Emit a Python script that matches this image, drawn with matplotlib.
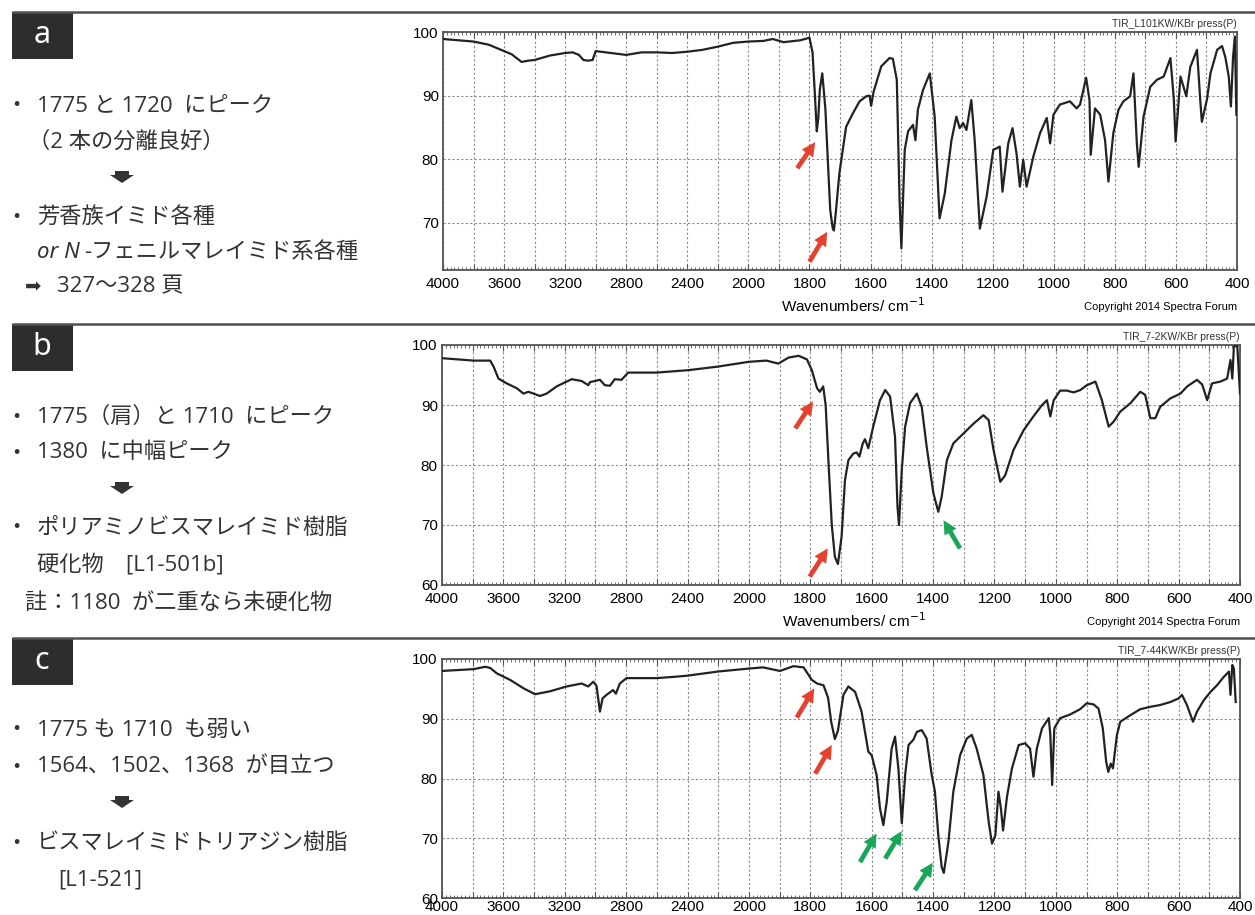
import numpy as np
import matplotlib
matplotlib.use('Agg')
import matplotlib.pyplot as plt
from matplotlib.patches import Rectangle, Polygon

plt.rcParams['font.family'] = ['Liberation Sans', 'DejaVu Sans']
JP = ['Open Sans', 'Noto Sans CJK JP', 'DejaVu Sans']

# --- spectra (wavenumber cm-1, %T) ---
wn_a = [4000, 3800, 3700, 3650, 3600, 3550, 3486, 3440, 3400, 3300, 3200, 3150, 3110, 3080,
        3050, 3020, 3000, 2900, 2800, 2700, 2600, 2500, 2400, 2300, 2200, 2100, 2000, 1951,
        1920, 1885, 1830, 1800, 1790, 1782, 1776, 1771, 1766, 1758, 1748, 1740, 1732, 1724,
        1720, 1714, 1702, 1680, 1658, 1636, 1614, 1603, 1598, 1590, 1565, 1538, 1527, 1514,
        1505, 1499, 1488, 1477, 1461, 1453, 1445, 1428, 1406, 1390, 1374, 1357, 1335, 1319,
        1308, 1297, 1286, 1270, 1259, 1242, 1220, 1198, 1188, 1177, 1168, 1149, 1135, 1122,
        1111, 1100, 1089, 1067, 1045, 1023, 1012, 1001, 980, 947, 925, 914, 894, 883, 879,
        865, 848, 832, 821, 805, 788, 772, 750, 739, 728, 722, 706, 684, 662, 640, 618, 607,
        601, 585, 566, 553, 531, 520, 515, 498, 487, 465, 449, 438, 427, 420, 413, 407, 402]
t_a = [98.9, 98.5, 98.0, 97.5, 97.0, 96.5, 95.3, 95.5, 95.6, 96.3, 96.7, 96.8, 96.4, 95.6,
       95.5, 95.6, 97.0, 96.7, 96.4, 96.8, 96.8, 96.7, 96.9, 97.2, 97.7, 98.3, 98.5, 98.6,
       98.9, 98.4, 98.7, 99.1, 96.8, 90.0, 84.4, 86.5, 91.0, 93.5, 88.0, 80.0, 72.0, 69.2,
       68.8, 71.5, 77.8, 85.1, 87.2, 89.1, 89.9, 90.0, 88.4, 90.6, 94.6, 95.9, 95.8, 92.5,
       73.6, 66.0, 81.5, 84.4, 85.4, 83.0, 87.8, 90.9, 93.5, 86.7, 70.7, 74.6, 83.0, 86.7,
       84.9, 85.7, 84.6, 89.3, 83.0, 69.1, 74.1, 81.5, 81.7, 82.0, 74.9, 82.5, 84.9, 80.9,
       75.7, 79.9, 75.7, 80.4, 84.1, 86.5, 82.5, 87.0, 88.6, 89.1, 88.0, 88.6, 92.8, 89.3, 80.7,
       88.0, 87.0, 83.0, 76.5, 84.1, 87.8, 89.1, 89.9, 93.5, 82.5, 78.8, 86.7, 91.4, 92.5, 93.0, 95.9, 89.5,
       82.8, 93.0, 89.9, 94.5, 97.2, 89.0, 85.9, 89.5, 93.5, 97.2, 97.8, 96.0, 93.0, 88.3, 96.0, 99.3, 87.0]

wn_b = [4000, 3794, 3686, 3664, 3632, 3578, 3513, 3469, 3437, 3404, 3361, 3318, 3253, 3155,
        3090, 3047, 3036, 2971, 2939, 2906, 2874, 2830, 2787, 2603, 2397, 2202, 2000, 1943,
        1904, 1871, 1838, 1811, 1795, 1778, 1769, 1758, 1750, 1740, 1730, 1720, 1710, 1698,
        1687, 1676, 1660, 1649, 1640, 1629, 1622, 1611, 1595, 1573, 1556, 1540, 1524, 1516,
        1511, 1502, 1491, 1475, 1453, 1437, 1421, 1399, 1383, 1372, 1355, 1334, 1312, 1290,
        1268, 1236, 1219, 1203, 1181, 1165, 1138, 1105, 1073, 1045, 1029, 1018, 1007, 986,
        964, 942, 920, 899, 871, 850, 828, 812, 790, 757, 725, 709, 692, 676, 660, 627, 594,
        572, 540, 523, 507, 491, 464, 442, 431, 425, 420, 409, 400]
t_b = [97.8, 97.4, 97.4, 96.4, 94.4, 93.6, 92.8, 91.9, 92.2, 91.9, 91.5, 91.9, 93.1, 94.3,
       94.0, 93.3, 93.8, 94.2, 93.3, 93.2, 94.3, 94.2, 95.4, 95.4, 95.8, 96.4, 97.2, 97.4,
       96.9, 97.9, 98.2, 97.6, 95.8, 92.8, 92.2, 93.1, 90.0, 79.7, 70.0, 64.7, 63.5, 68.1,
       77.5, 80.8, 81.9, 82.1, 81.4, 83.6, 84.3, 82.8, 86.4, 90.8, 92.5, 91.4, 84.7, 73.1,
       70.0, 79.2, 86.4, 90.3, 91.9, 89.7, 83.1, 75.3, 72.2, 74.7, 80.8, 83.6, 84.7, 85.8,
       86.9, 88.3, 87.5, 82.5, 77.2, 78.3, 82.5, 85.8, 88.1, 90.0, 90.8, 88.1, 90.8, 92.4,
       92.4, 92.1, 92.5, 93.3, 93.9, 90.8, 86.4, 87.2, 88.9, 90.3, 92.2, 91.7, 87.8, 87.8, 89.7, 91.1, 91.9,
       93.1, 94.2, 93.4, 90.8, 93.6, 93.9, 94.4, 97.5, 94.4, 99.7, 100.0, 91.9]

wn_c = [4000, 3794, 3718, 3686, 3643, 3556, 3469, 3394, 3296, 3188, 3090, 3047, 3014, 2993,
        2971, 2954, 2928, 2885, 2867, 2841, 2798, 2603, 2495, 2404, 2202, 2000, 1954, 1899,
        1855, 1822, 1795, 1778, 1757, 1742, 1732, 1720, 1710, 1692, 1676, 1654, 1633, 1611,
        1600, 1584, 1573, 1562, 1551, 1535, 1524, 1513, 1502, 1491, 1480, 1464, 1453, 1437,
        1421, 1405, 1394, 1383, 1372, 1365, 1350, 1334, 1312, 1290, 1274, 1258, 1236, 1219,
        1208, 1197, 1187, 1179, 1172, 1159, 1143, 1121, 1100, 1084, 1073, 1062, 1045, 1023,
        1018, 1012, 1005, 986, 954, 921, 899, 877, 861, 847, 836, 829, 821, 814, 801, 790,
        757, 725, 692, 660, 627, 600, 589, 573, 553, 540, 518, 496, 475, 453, 436, 431, 425,
        420, 414]
t_c = [98.0, 98.3, 98.7, 98.5, 97.6, 96.5, 95.1, 94.1, 94.6, 95.4, 95.9, 95.4, 96.2, 95.5,
       91.2, 93.4, 94.0, 94.8, 94.2, 95.9, 96.8, 96.8, 97.0, 97.2, 97.9, 98.4, 98.6, 98.0,
       98.8, 98.6, 96.5, 95.9, 95.6, 93.5, 89.5, 86.6, 88.0, 94.0, 95.4, 94.5, 91.2, 84.5,
       83.9, 80.6, 75.0, 72.2, 76.1, 85.0, 87.0, 81.7, 72.5, 80.6, 85.6, 86.5, 87.8, 88.1,
       86.7, 80.8, 77.8, 70.5, 65.2, 64.2, 69.4, 77.8, 83.9, 86.7, 87.3, 85.0, 80.6, 72.8,
       69.1, 70.5, 77.8, 75.0, 71.3, 77.0, 81.7, 85.6, 85.9, 85.0, 80.3, 85.0, 88.4, 90.1,
       87.3, 78.9, 88.4, 90.1, 90.7, 91.6, 92.6, 92.4, 91.7, 88.4, 82.8, 81.1, 82.5, 81.7, 87.3, 89.5,
       90.6, 91.6, 92.0, 92.3, 92.8, 93.4, 94.0, 92.3, 89.5, 91.2, 93.1, 94.5, 95.6, 97.0, 97.9, 94.0, 99.0,
       98.4, 92.8]

sample_names = ['TIR_L101KW/KBr press(P)', 'TIR_7-2KW/KBr press(P)', 'TIR_7-44KW/KBr press(P)']
y_lows = [62.6, 60, 60]

# arrows: (tail wn, tail %T, tip wn, tip %T, colour)
RED, GREEN = '#e5412f', '#1aa65a'
arrows_a = [(1840, 78.6, 1781, 82.7, RED), (1800, 63.9, 1742, 68.6, RED)]
arrows_b = [(1849, 86.1, 1791, 90.6, RED), (1802, 61.4, 1743, 66.1, RED),
            (1312, 66.1, 1366, 70.8, GREEN)]
arrows_c = [(1844, 90.2, 1787, 95.1, RED), (1784, 80.8, 1730, 85.6, RED),
            (1638, 66.0, 1584, 70.8, GREEN), (1556, 66.6, 1502, 71.2, GREEN),
            (1459, 61.3, 1401, 65.9, GREEN)]

grid_x = list(range(4000, 1999, -200)) + list(range(1900, 399, -100))
label_x = [4000, 3600, 3200, 2800, 2400, 2000, 1800, 1600, 1400, 1200, 1000, 800, 600, 400]
minor_x = list(np.arange(4000, 2000, -25)) + list(np.arange(2000, 399, -12.5))


def fwd(x):
    x = np.asarray(x, dtype=float)
    return np.where(x >= 2000, x, 2 * x - 2000)


def inv(y):
    y = np.asarray(y, dtype=float)
    return np.where(y >= 2000, y, (y + 2000) / 2)


W, H = 1255, 915
fig = plt.figure(figsize=(W / 100, H / 100), dpi=100)

# overlay in pixel coordinates for the left-hand notes
ov = fig.add_axes([0, 0, 1, 1])
ov.set_xlim(0, W)
ov.set_ylim(H, 0)
ov.axis('off')


def spectrum_axes(rect, wn, t, ylow, name, arrows, xlabel=True, xpad=5):
    ax = fig.add_axes(rect)
    ax.set_xscale('function', functions=(fwd, inv))
    ax.plot(wn, t, color='#222222', lw=1.6, zorder=3)
    ax.set_xlim(4000, 400)
    ax.set_ylim(ylow, 100)
    ax.set_xticks(grid_x)
    ax.set_xticklabels([str(v) if v in label_x else '' for v in grid_x], fontsize=11)
    ax.set_xticks(minor_x, minor=True)
    ax.set_yticks([v for v in [60, 70, 80, 90, 100] if v >= ylow])
    ax.tick_params(axis='y', length=0, pad=3, labelsize=11)
    ax.tick_params(axis='x', which='major', direction='in', top=True, bottom=True,
                   length=4, width=0.8, color='#555555', pad=xpad)
    ax.tick_params(axis='x', which='minor', direction='in', top=True, bottom=True,
                   length=2, width=0.6, color='#555555')
    ax.grid(True, which='major', ls=(0, (2, 2)), color='#8a8a8a', lw=0.8)
    for s in ax.spines.values():
        s.set_color('#555555')
        s.set_linewidth(1.3)
    ax.text(1.0, 1.012, name, transform=ax.transAxes, ha='right', va='bottom',
            fontsize=7.5, color='#333333')
    if xlabel:
        ax.text(0.516, -0.15, 'Wavenumbers/ cm$^{-1}$', transform=ax.transAxes,
                ha='center', va='center', fontsize=11)
        ax.text(1.0, -0.155, 'Copyright 2014 Spectra Forum', transform=ax.transAxes,
                ha='right', va='center', fontsize=8,
                family=['Liberation Sans Narrow', 'Liberation Sans'])
    for x0, y0, x1, y1, col in arrows:
        ax.annotate('', xy=(x1, y1), xytext=(x0, y0),
                    arrowprops=dict(arrowstyle='simple,head_length=1.1,head_width=1.1,tail_width=0.38',
                                    color=col, lw=0, shrinkA=0, shrinkB=0, mutation_scale=9),
                    zorder=4)
    return ax


spectrum_axes([443 / W, 1 - 270 / H, 794 / W, 238 / H], wn_a, t_a, y_lows[0], sample_names[0], arrows_a)
spectrum_axes([442 / W, 1 - 585 / H, 798 / W, 240 / H], wn_b, t_b, y_lows[1], sample_names[1], arrows_b)
spectrum_axes([442 / W, 1 - 898 / H, 798 / W, 239 / H], wn_c, t_c, y_lows[2], sample_names[2], arrows_c,
              xlabel=False, xpad=1.5)


# --- left-hand notes ---
def header(y, letter):
    ov.plot([12, W], [y, y], color='#505050', lw=1.8, solid_capstyle='butt')
    ov.add_patch(Rectangle((12, y), 61, 47, color='#2d2d2d', lw=0))
    ov.text(42, y + 23, letter, color='white', fontsize=22, ha='center', va='center',
            family=['Noto Sans', 'DejaVu Sans'])


def bullet(y, s):
    ov.text(16, y, '・', ha='center', va='center', fontsize=16, family=['Noto Sans CJK JP'],
            color='#333333')
    ov.text(37, y, s, ha='left', va='center', fontsize=16, family=JP, color='#333333')


def line(x, y, s, **kw):
    ov.text(x, y, s, ha='left', va='center', fontsize=16, family=JP, color='#333333', **kw)


def down_arrow(cx, cy):
    pts = [(cx - 7, cy - 6), (cx + 7, cy - 6), (cx + 7, cy - 2), (cx + 12, cy - 2),
           (cx, cy + 6), (cx - 12, cy - 2), (cx - 7, cy - 2)]
    ov.add_patch(Polygon(pts, closed=True, color='#333333', lw=0))


header(12, 'a')
bullet(106, '1775 と 1720  にピーク')
line(28, 142, '（2 本の分離良好）')
down_arrow(122, 177)
bullet(217, '芳香族イミド各種')
ov.text(37, 253, 'or N', ha='left', va='center', fontsize=16, style='italic',
        family=['Noto Sans', 'DejaVu Sans'], color='#333333')
line(84, 253, '-フェニルマレイミド系各種')
ov.text(25, 287, '➡', ha='left', va='center', fontsize=14, family=['DejaVu Sans'], color='#333333')
line(57, 287, '327～328 頁')

header(324, 'b')
bullet(417, '1775（肩）と 1710  にピーク')
bullet(453, '1380  に中幅ピーク')
down_arrow(122, 488)
bullet(528, 'ポリアミノビスマレイミド樹脂')
line(37, 565, '硬化物　[L1-501b]')
line(25, 603, '註：1180  が二重なら未硬化物')

header(638, 'c')
bullet(730, '1775 も 1710  も弱い')
bullet(767, '1564、1502、1368  が目立つ')
down_arrow(122, 802)
bullet(843, 'ビスマレイミドトリアジン樹脂')
line(58, 880, '[L1-521]')

fig.savefig('out.png', dpi=100)
